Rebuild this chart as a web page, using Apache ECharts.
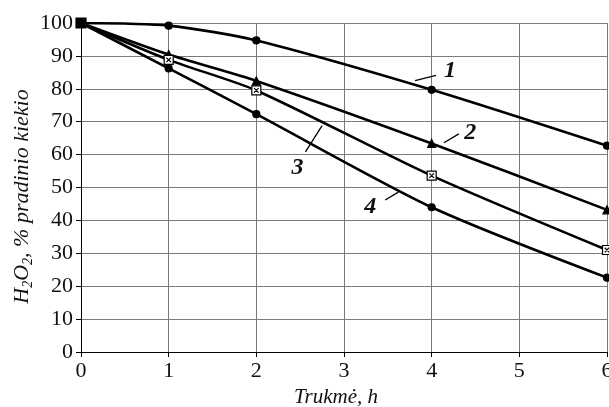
<!DOCTYPE html>
<html>
<head>
<meta charset="utf-8">
<script src="https://cdn.jsdelivr.net/npm/echarts@6/dist/echarts.min.js"></script>
<style>
  html, body { margin: 0; padding: 0; background: #fff; }
  #chart { width: 609px; height: 407px; }
</style>
</head>
<body>
<div id="chart"></div>
<script>
  // laikas, h
  var hours = [0, 1, 2, 4, 6];
  var curve1 = [100, 99.2, 94.7, 79.7, 62.7];
  var curve2 = [100, 90.4, 82.4, 63.4, 43.2];
  var curve3 = [100, 88.8, 79.5, 53.6, 31];
  var curve4 = [100, 86.2, 72.3, 44, 22.6];

  // kreiviu numeriai: [tekstas, x, y, linijos pradzia x, y, pabaiga x, y] (duomenu koordinates)
  var notes = [
    ['1', 4.21, 85.4, 3.81, 82.5, 4.05, 84.1],
    ['2', 4.44, 66.7, 4.14, 63.6, 4.31, 66.3],
    ['3', 2.47, 56.0, 2.56, 60.8, 2.75, 68.8],
    ['4', 3.30, 44.0, 3.47, 46.2, 3.62, 48.6]
  ];

  var serif = '"Liberation Serif", "Times New Roman", serif';
  var crossBox = 'path://M0,0L10,0L10,10L0,10Z M2.5,2.5L7.5,7.5 M7.5,2.5L2.5,7.5';

  function pairs(ys) {
    return hours.map(function (h, i) { return [h, ys[i]]; });
  }

  function line(name, ys, symbol, size, fill) {
    return {
      name: name,
      type: 'line',
      data: pairs(ys),
      smooth: 0.25,
      symbol: symbol,
      symbolSize: size,
      showAllSymbol: true,
      lineStyle: { color: '#000', width: 2.6 },
      itemStyle: { color: fill, borderColor: '#000', borderWidth: 1.2 },
      z: 3
    };
  }

  var myChart = echarts.init(document.getElementById('chart'));
  var s3 = line('3', curve3, crossBox, 9, '#fff');
  s3.data[0] = { value: s3.data[0], symbol: 'rect', symbolSize: 10, itemStyle: { color: '#000' } };

  myChart.setOption({
    animation: false,
    grid: { left: 81, right: 2, top: 23, bottom: 55, outerBoundsMode: 'none' },
    xAxis: {
      type: 'value',
      min: 0, max: 6, interval: 1,
      name: 'Trukmė, h',
      nameLocation: 'middle',
      nameGap: 33,
      nameTextStyle: { fontFamily: serif, fontSize: 21, fontStyle: 'italic', color: '#111', padding: [0, 16, 0, 0] },
      axisLine: { lineStyle: { color: '#000', width: 1 } },
      axisTick: { show: true, length: 5, inside: false, lineStyle: { color: '#000' } },
      axisLabel: { fontFamily: serif, fontSize: 22, color: '#111', margin: 8 },
      splitLine: { show: true, lineStyle: { color: '#7a7a7a', width: 1 } }
    },
    yAxis: {
      type: 'value',
      min: 0, max: 100, interval: 10,
      name: '{a|H}{s|2}{a|O}{s|2}{a|, % pradinio kiekio}',
      nameLocation: 'middle',
      nameGap: 42,
      nameMoveOverlap: false,
      nameRotate: 90,
      nameTextStyle: {
        fontFamily: serif, fontStyle: 'italic', color: '#111',
        padding: [0, 18, 0, 0],
        rich: {
          a: { fontFamily: serif, fontStyle: 'italic', fontSize: 22, lineHeight: 28, verticalAlign: 'top', color: '#111' },
          s: { fontFamily: serif, fontStyle: 'italic', fontSize: 14, lineHeight: 28, verticalAlign: 'top', padding: [10, 0, 0, 0], color: '#111' }
        }
      },
      axisLine: { show: true, lineStyle: { color: '#000', width: 1 } },
      axisTick: { show: true, length: 5, lineStyle: { color: '#000' } },
      axisLabel: { fontFamily: serif, fontSize: 22, color: '#111', margin: 8 },
      splitLine: { show: true, lineStyle: { color: '#7a7a7a', width: 1 } }
    },
    series: [
      line('1', curve1, 'circle', 7, '#000'),
      line('2', curve2, 'triangle', 8, '#000'),
      s3,
      line('4', curve4, 'circle', 7, '#000')
    ]
  });

  // numeriai prie kreiviu
  var g = [];
  notes.forEach(function (n) {
    var t = myChart.convertToPixel({ gridIndex: 0 }, [n[1], n[2]]);
    var a = myChart.convertToPixel({ gridIndex: 0 }, [n[3], n[4]]);
    var b = myChart.convertToPixel({ gridIndex: 0 }, [n[5], n[6]]);
    g.push({
      type: 'line',
      shape: { x1: a[0], y1: a[1], x2: b[0], y2: b[1] },
      style: { stroke: '#000', lineWidth: 1.3 },
      z: 10
    });
    g.push({
      type: 'text',
      x: t[0], y: t[1],
      style: {
        text: n[0], fill: '#111',
        font: 'italic bold 24px ' + serif,
        align: 'center', verticalAlign: 'middle'
      },
      z: 10
    });
  });
  myChart.setOption({ graphic: g });
</script>
</body>
</html>
